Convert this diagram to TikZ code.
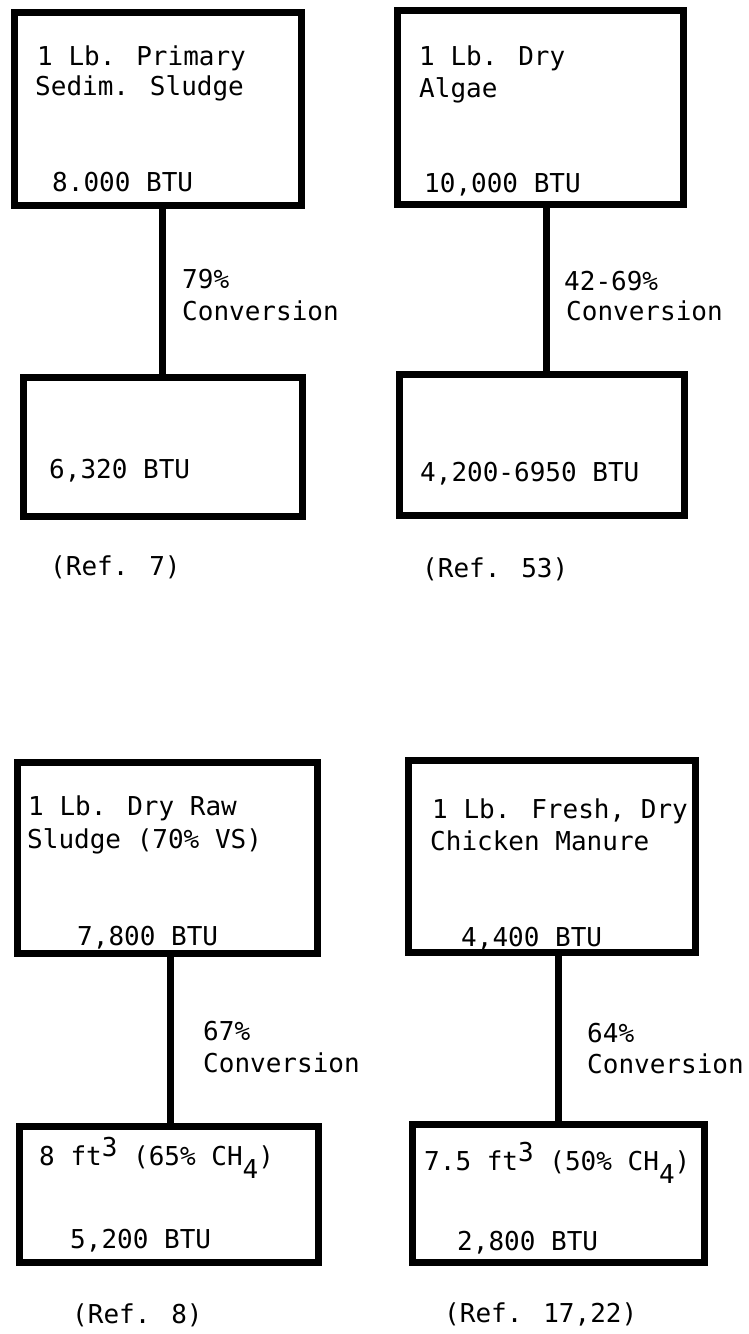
\documentclass[tikz,border=0pt]{standalone}
\usepackage{fontspec}
\newfontfamily\typew{DejaVu Sans Mono}
\newcommand{\sups}[1]{\raisebox{9pt}{#1}}
\newcommand{\subs}[1]{\raisebox{-13pt}{#1}}
\begin{document}
\begin{tikzpicture}[x=1pt,y=-1pt,
  box/.style={draw=black,line width=7pt,rectangle,inner sep=0pt,fill=none},
  link/.style={draw=black,line width=7pt},
  txt/.style={anchor=base west,inner sep=0pt,font=\typew\fontsize{26}{30}\selectfont}]
\useasboundingbox[fill=white] (0,0) rectangle (748,1334);
% boxes
\node[box,minimum width=287pt,minimum height=193pt] (a1) at (157.5,108.5) {};
\node[box,minimum width=279pt,minimum height=139pt] (a2) at (162.5,446.5) {};
\node[box,minimum width=286pt,minimum height=194pt] (b1) at (540,107) {};
\node[box,minimum width=285pt,minimum height=141pt] (b2) at (541.5,444.5) {};
\node[box,minimum width=300pt,minimum height=191pt] (c1) at (167,857.5) {};
\node[box,minimum width=299pt,minimum height=136pt] (c2) at (168.5,1194) {};
\node[box,minimum width=287pt,minimum height=192pt] (d1) at (551.5,856) {};
\node[box,minimum width=292pt,minimum height=138pt] (d2) at (558,1193) {};
% connectors
\draw[link] (a2.north) -- (a2.north |- a1.south);
\draw[link] ([xshift=4.5pt]b2.north) -- ([xshift=4.5pt]b2.north |- b1.south);
\draw[link] ([xshift=1.5pt]c2.north) -- ([xshift=1.5pt]c2.north |- c1.south);
\draw[link] (d2.north) -- (d2.north |- d1.south);
% texts column 1, top
\node[txt] (a1t1) at (37,65) {1 Lb. Primary};
\node[txt] (a1t2) at (35,95) {Sedim. Sludge};
\node[txt] (a1t3) at (52,191) {8.000 BTU};
\node[txt] (ap) at (182,288) {79\%};
\node[txt] (ac) at (182,320) {Conversion};
\node[txt] (a2t) at (49,478) {6,320 BTU};
\node[txt] (ar) at (50,575) {(Ref. 7)};
% column 2, top
\node[txt] (b1t1) at (419,65) {1 Lb. Dry};
\node[txt] (b1t2) at (419,97) {Algae};
\node[txt] (b1t3) at (424,192) {10,000 BTU};
\node[txt] (bp) at (564,290) {42-69\%};
\node[txt] (bc) at (566,320) {Conversion};
\node[txt] (b2t) at (420,481) {4,200-6950 BTU};
\node[txt] (br) at (422,577) {(Ref. 53)};
% column 1, bottom
\node[txt] (c1t1) at (28,815) {1 Lb. Dry Raw};
\node[txt] (c1t2) at (27,848) {Sludge (70\% VS)};
\node[txt] (c1t3) at (77,945) {7,800 BTU};
\node[txt] (cp) at (203,1040) {67\%};
\node[txt] (cc) at (203,1072) {Conversion};
\node[txt] (c2t1) at (39,1165) {8 ft\sups{3} (65\% CH\subs{4})};
\node[txt] (c2t2) at (70,1248) {5,200 BTU};
\node[txt] (cr) at (72,1323) {(Ref. 8)};
% column 2, bottom
\node[txt] (d1t1) at (432,818) {1 Lb. Fresh, Dry};
\node[txt] (d1t2) at (430,850) {Chicken Manure};
\node[txt] (d1t3) at (461,946) {4,400 BTU};
\node[txt] (dp) at (587,1042) {64\%};
\node[txt] (dc) at (587,1073) {Conversion};
\node[txt] (d2t1) at (424,1170) {7.5 ft\sups{3} (50\% CH\subs{4})};
\node[txt] (d2t2) at (457,1250) {2,800 BTU};
\node[txt] (dr) at (444,1322) {(Ref. 17,22)};
\end{tikzpicture}
\end{document}
